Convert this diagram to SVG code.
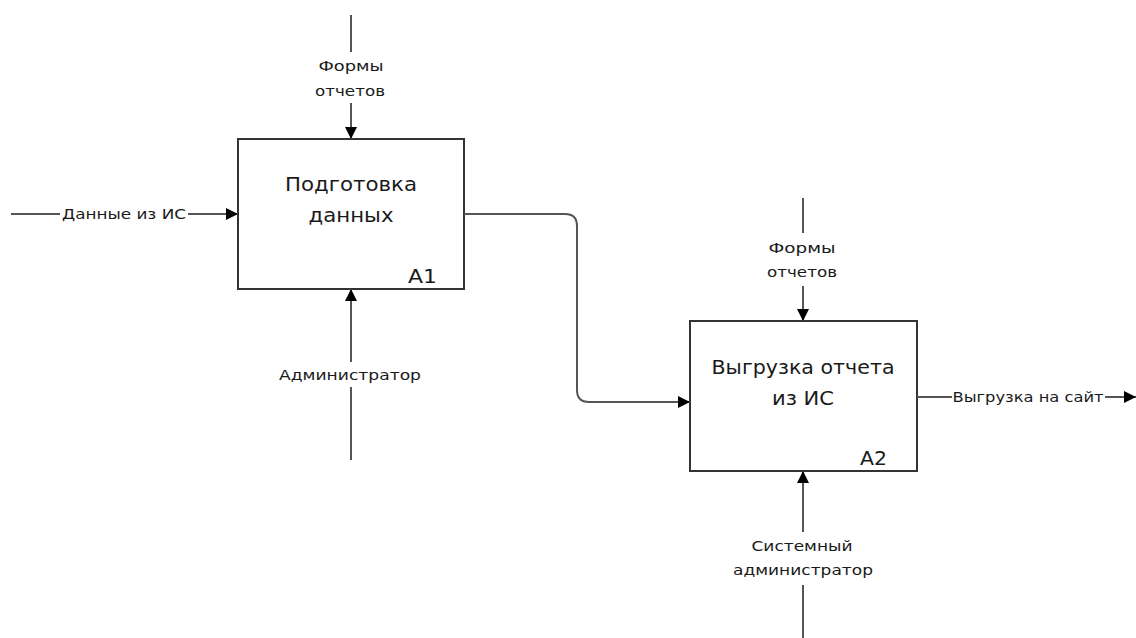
<svg xmlns="http://www.w3.org/2000/svg" width="1136" height="638" viewBox="0 0 1136 638">
  <style>
    .box { fill: #ffffff; stroke: #333333; stroke-width: 2; }
    .line { fill: none; stroke: #555555; stroke-width: 2; }
    .title { font-family: "DejaVu Sans", "Liberation Sans", sans-serif; font-size: 19px; fill: #1a1a1a; text-anchor: middle; }
    .num { font-family: "DejaVu Sans", "Liberation Sans", sans-serif; font-size: 19px; fill: #1a1a1a; text-anchor: end; }
    .lbl { font-family: "DejaVu Sans", "Liberation Sans", sans-serif; font-size: 14px; fill: #1a1a1a; text-anchor: middle; }
  </style>
  <defs>
    <marker id="arrow" viewBox="0 0 12 12" refX="12" refY="6" markerWidth="12" markerHeight="12" markerUnits="userSpaceOnUse" orient="auto">
      <path d="M0,0 L12,6 L0,12 z" fill="#000000"/>
    </marker>
  </defs>

  <!-- activity boxes -->
  <g id="node-a1">
    <rect class="box" x="238" y="139" width="226" height="150"/>
    <text class="title" x="351" y="191" textLength="132" lengthAdjust="spacingAndGlyphs">Подготовка</text>
    <text class="title" x="351" y="222" textLength="85" lengthAdjust="spacingAndGlyphs">данных</text>
    <text class="num" x="437" y="283" textLength="29" lengthAdjust="spacingAndGlyphs">A1</text>
  </g>
  <g id="node-a2">
    <rect class="box" x="690" y="321" width="227" height="150"/>
    <text class="title" x="803" y="374" textLength="183" lengthAdjust="spacingAndGlyphs">Выгрузка отчета</text>
    <text class="title" x="803" y="405" textLength="62" lengthAdjust="spacingAndGlyphs">из ИС</text>
    <text class="num" x="887" y="465" textLength="27" lengthAdjust="spacingAndGlyphs">A2</text>
  </g>

  <!-- arrows -->
  <g id="connectors">
    <!-- A1 control -->
    <line class="line" x1="351" y1="15" x2="351" y2="52"/>
    <line class="line" x1="351" y1="103" x2="351" y2="139" marker-end="url(#arrow)"/>
    <!-- A1 input -->
    <line class="line" x1="11" y1="214" x2="60" y2="214"/>
    <line class="line" x1="188" y1="214" x2="238" y2="214" marker-end="url(#arrow)"/>
    <!-- A1 mechanism -->
    <line class="line" x1="351" y1="460" x2="351" y2="387"/>
    <line class="line" x1="351" y1="362" x2="351" y2="289" marker-end="url(#arrow)"/>
    <!-- A1 output to A2 input -->
    <path class="line" d="M464,214 H565 Q577,214 577,226 V390 Q577,402 589,402 H690" marker-end="url(#arrow)"/>
    <!-- A2 control -->
    <line class="line" x1="803" y1="198" x2="803" y2="233"/>
    <line class="line" x1="803" y1="286" x2="803" y2="321" marker-end="url(#arrow)"/>
    <!-- A2 output -->
    <line class="line" x1="917" y1="397" x2="952" y2="397"/>
    <line class="line" x1="1105" y1="397" x2="1136" y2="397" marker-end="url(#arrow)"/>
    <!-- A2 mechanism -->
    <line class="line" x1="803" y1="638" x2="803" y2="585"/>
    <line class="line" x1="803" y1="532" x2="803" y2="471" marker-end="url(#arrow)"/>
  </g>

  <!-- arrow labels -->
  <g id="labels">
    <text class="lbl" x="351" y="71" textLength="65" lengthAdjust="spacingAndGlyphs">Формы</text>
    <text class="lbl" x="350" y="96" textLength="70" lengthAdjust="spacingAndGlyphs">отчетов</text>
    <text class="lbl" x="124" y="219" textLength="124" lengthAdjust="spacingAndGlyphs">Данные из ИС</text>
    <text class="lbl" x="350" y="380" textLength="142" lengthAdjust="spacingAndGlyphs">Администратор</text>
    <text class="lbl" x="802" y="253" textLength="67" lengthAdjust="spacingAndGlyphs">Формы</text>
    <text class="lbl" x="802" y="277" textLength="70" lengthAdjust="spacingAndGlyphs">отчетов</text>
    <text class="lbl" x="1028" y="402" textLength="151" lengthAdjust="spacingAndGlyphs">Выгрузка на сайт</text>
    <text class="lbl" x="802" y="551" textLength="101" lengthAdjust="spacingAndGlyphs">Системный</text>
    <text class="lbl" x="803" y="575" textLength="140" lengthAdjust="spacingAndGlyphs">администратор</text>
  </g>
</svg>
